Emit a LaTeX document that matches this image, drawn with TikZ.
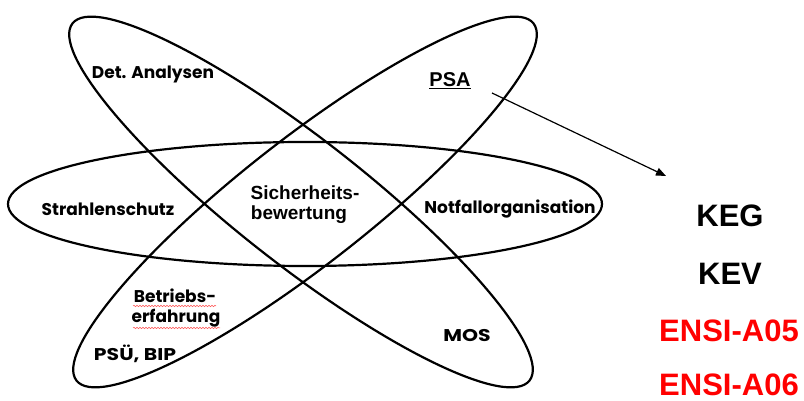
\documentclass[tikz,border=0pt]{standalone}
\usepackage{fontspec}
\usetikzlibrary{arrows.meta,decorations.pathmorphing}
\newfontfamily\comicfont{Poppins}
\newfontfamily\comicwide{Poppins}[FakeStretch=1.2]
\newfontfamily\arialfont{Liberation Sans}
\begin{document}
\begin{tikzpicture}[x=1pt,y=1pt,
  orbit/.style={draw=black,line width=2.2pt},
  comic/.style={font=\comicfont\bfseries\fontsize{17}{20}\selectfont,anchor=base,inner sep=0pt},
  comicw/.style={font=\comicwide\bfseries\fontsize{17}{20}\selectfont,anchor=base,inner sep=0pt},
  arialtxt/.style={font=\arialfont\bfseries\fontsize{19}{21}\selectfont,anchor=base,inner sep=0pt},
  bigtxt/.style={font=\arialfont\bfseries\fontsize{31}{34}\selectfont,anchor=base,inner sep=0pt},
  spell/.style={draw=red!70,line width=0.5pt,decorate,decoration={snake,amplitude=0.7pt,segment length=3pt}},
  link/.style={draw=black,line width=1.2pt,-{Triangle[length=10pt,width=8pt]}}]
\useasboundingbox (0,0) rectangle (804,401);
% ellipses
\draw[orbit] (305,197) ellipse [x radius=297, y radius=62];
\draw[orbit,rotate around={-38:(301,199)}] (301,199) ellipse [x radius=290, y radius=63];
\draw[orbit,rotate around={38:(305,199)}] (305,199) ellipse [x radius=290, y radius=63];
% labels
\node[comic] (det) at (153,322) {Det. Analysen};
\node[arialtxt,font=\arialfont\bfseries\fontsize{20}{22}\selectfont] (psa) at (450,314) {\underline{PSA}};
\node[comic] (strahl) at (108,185) {Strahlenschutz};
\node[arialtxt] (sich1) at (305,201) {Sicherheits-};
\node[arialtxt] (sich2) at (299,181) {bewertung};
\node[comic] (notf) at (510,187) {Notfallorganisation};
\node[comic] (betr1) at (175,98) {Betriebs-};
\node[comic] (betr2) at (176,78) {erfahrung};
\node[comicw] (psu) at (135,40) {PSÜ, BIP};
\node[comicw] (mos) at (467,59) {MOS};
% spell-check underlines
\coordinate (sp1a) at (133,95);
\coordinate (sp1b) at (216,95);
\coordinate (sp2a) at (133,73);
\coordinate (sp2b) at (220,73);
\draw[spell] (sp1a) -- (sp1b);
\draw[spell] (sp2a) -- (sp2b);
% right column
\node[bigtxt] (keg) at (730,174) {KEG};
\node[bigtxt] (kev) at (730,116) {KEV};
\node[bigtxt,text=red] (a05) at (729,59) {ENSI-A05};
\node[bigtxt,text=red] (a06) at (729,5) {ENSI-A06};
% arrow
\coordinate (arrA) at (492,308);
\coordinate (arrB) at (666,225);
\draw[link] (arrA) -- (arrB);
\end{tikzpicture}
\end{document}
